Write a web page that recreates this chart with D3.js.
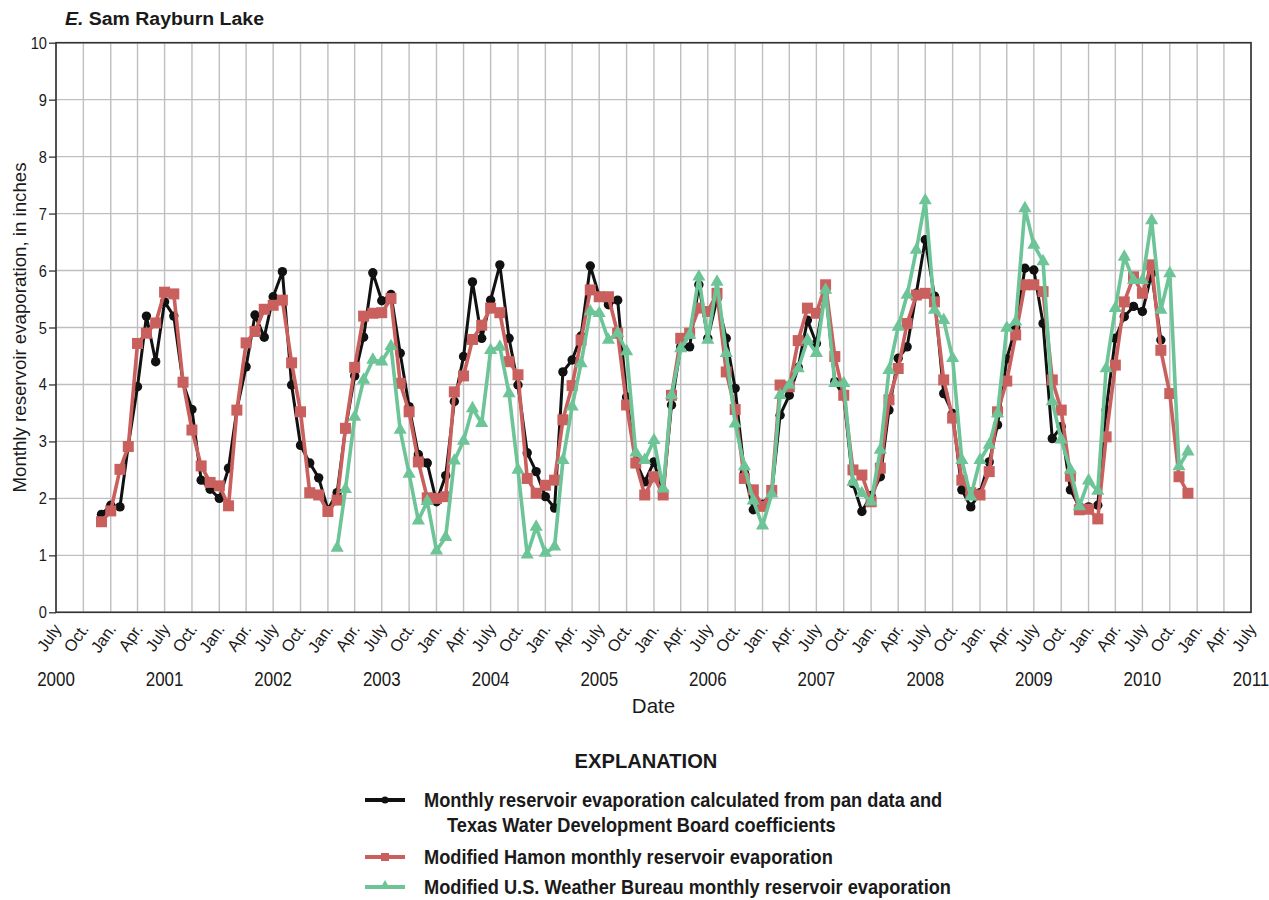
<!DOCTYPE html>
<html>
<head>
<meta charset="utf-8">
<script src="https://cdn.jsdelivr.net/npm/d3@7"></script>
<style>
  body { margin: 0; background: #fff; }
  svg { display: block; }
</style>
</head>
<body>
<svg id="chart" width="1269" height="900"></svg>
<script>
// Monthly reservoir evaporation, Sam Rayburn Lake, in inches.
// Each series is listed month by month from its first month.
const panStart = [2000, 12];     // pan data with TWDB coefficients
const panValues = [
  1.72,
  1.88, 1.85, 2.93, 3.96, 5.20, 4.40, 5.45, 5.20, 4.03, 3.56, 2.32, 2.16,
  2.00, 2.53, 3.56, 4.31, 5.22, 4.83, 5.54, 5.98, 3.99, 2.93, 2.62, 2.36,
  1.80, 2.10, 3.22, 4.15, 4.83, 5.96, 5.47, 5.58, 4.55, 3.61, 2.77, 2.62,
  1.94, 2.40, 3.70, 4.49, 5.80, 4.81, 5.48, 6.10, 4.81, 3.99, 2.80, 2.47,
  2.03, 1.83, 4.22, 4.43, 4.85, 6.08, 5.55, 5.40, 5.48, 3.78, 2.65, 2.29,
  2.64, 2.10, 3.64, 4.66, 4.66, 5.75, 4.81, 5.50, 4.81, 3.93, 2.45, 1.80,
  1.90, 2.10, 3.46, 3.81, 4.30, 5.13, 4.72, 5.65, 4.05, 3.80, 2.26, 1.77,
  2.05, 2.38, 3.55, 4.46, 4.66, 5.60, 6.54, 5.55, 3.84, 3.49, 2.15, 1.85,
  2.10, 2.64, 3.29, 4.45, 5.00, 6.04, 6.01, 5.07, 3.05, 3.26, 2.15, 1.85,
  1.85, 1.88, 3.55, 4.81, 5.19, 5.37, 5.28, 5.95, 4.78
];

const hamonStart = [2000, 12];   // modified Hamon
const hamonValues = [
  1.59,
  1.78, 2.51, 2.91, 4.72, 4.90, 5.08, 5.62, 5.59, 4.04, 3.20, 2.57, 2.28,
  2.22, 1.87, 3.55, 4.73, 4.93, 5.32, 5.39, 5.48, 4.38, 3.52, 2.10, 2.06,
  1.77, 1.97, 3.23, 4.30, 5.20, 5.25, 5.26, 5.51, 4.02, 3.52, 2.64, 2.01,
  2.00, 2.03, 3.87, 4.15, 4.79, 5.04, 5.34, 5.26, 4.40, 4.17, 2.35, 2.09,
  2.23, 2.32, 3.38, 3.98, 4.78, 5.66, 5.54, 5.54, 4.90, 3.64, 2.62, 2.06,
  2.38, 2.06, 3.81, 4.81, 4.90, 5.34, 5.28, 5.60, 4.22, 3.56, 2.35, 2.15,
  1.86, 2.14, 3.99, 3.96, 4.77, 5.34, 5.25, 5.75, 4.49, 3.81, 2.50, 2.41,
  1.94, 2.53, 3.73, 4.28, 5.07, 5.57, 5.60, 5.45, 4.08, 3.41, 2.32, 2.10,
  2.06, 2.47, 3.52, 4.06, 4.87, 5.75, 5.75, 5.63, 4.08, 3.55, 2.39, 1.80,
  1.81, 1.64, 3.08, 4.34, 5.45, 5.89, 5.60, 6.10, 4.60, 3.84, 2.38, 2.09
];

const weatherBureauStart = [2003, 2];   // modified U.S. Weather Bureau
const weatherBureauValues = [
  1.13, 2.16, 3.43, 4.08, 4.43, 4.40, 4.67, 3.20, 2.43, 1.61, 1.95,
  1.08, 1.32, 2.66, 3.01, 3.58, 3.32, 4.60, 4.66, 3.84, 2.50, 1.01, 1.50,
  1.04, 1.15, 2.67, 3.61, 4.37, 5.28, 5.25, 4.78, 4.90, 4.58, 2.80, 2.67,
  3.02, 2.17, 3.81, 4.63, 4.87, 5.89, 4.78, 5.80, 4.55, 3.31, 2.56, 1.96,
  1.52, 2.08, 3.81, 3.99, 4.28, 4.78, 4.55, 5.66, 4.02, 4.02, 2.29, 2.09,
  1.94, 2.85, 4.25, 5.01, 5.57, 6.36, 7.23, 5.31, 5.13, 4.46, 2.67, 2.03,
  2.67, 2.94, 3.49, 4.99, 5.10, 7.09, 6.45, 6.16, 3.70, 3.03, 2.50, 1.86,
  2.31, 2.13, 4.28, 5.34, 6.24, 5.83, 5.83, 6.88, 5.31, 5.95, 2.56, 2.82
];

const monthTickLabels = { 0: "Jan.", 3: "Apr.", 6: "July", 9: "Oct." };
const yearLabels = ["2000", "2001", "2002", "2003", "2004", "2005",
                    "2006", "2007", "2008", "2009", "2010", "2011"];
const yTickValues = [0, 1, 2, 3, 4, 5, 6, 7, 8, 9, 10];

const legendLabels = [
  ["Monthly reservoir evaporation calculated from pan data and",
   "Texas Water Development Board coefficients"],
  ["Modified Hamon monthly reservoir evaporation"],
  ["Modified U.S. Weather Bureau monthly reservoir evaporation"]
];

// ---------------------------------------------------------------------
const svg = d3.select("#chart");

// Pick a narrow sans face if one is installed, otherwise squeeze a regular one.
function hasFont(name) {
  const probe = svg.append("text").attr("x", -2000).attr("y", -2000)
    .style("font-size", "40px").text("Monthly reservoir 2000 WMi");
  probe.style("font-family", `"${name}", monospace`);
  const a = probe.node().getComputedTextLength();
  probe.style("font-family", `"${name}", serif`);
  const b = probe.node().getComputedTextLength();
  probe.remove();
  return Math.abs(a - b) < 0.5;
}
let fontFamily, widthBase;
if (hasFont("Liberation Sans Narrow")) {
  fontFamily = '"Liberation Sans Narrow", sans-serif';
  widthBase = 1.0;
} else {
  fontFamily = '"Liberation Sans", Arial, sans-serif';
  widthBase = 0.82;
}

// Text placed at (x, y), optionally rotated, stretched horizontally by sx.
function addText(parent, x, y, str, opt = {}) {
  const sx = widthBase * (opt.sx || 1);
  const g = parent.append("g")
    .attr("transform", `translate(${x},${y}) rotate(${opt.rotate || 0}) scale(${sx},1)`);
  const t = g.append("text")
    .attr("text-anchor", opt.anchor || "start")
    .style("font-family", fontFamily)
    .style("font-size", (opt.size || 16) + "px")
    .style("font-weight", opt.weight || "normal")
    .style("fill", "#1a1a1a");
  if (str !== null) t.text(str);
  return t;
}

const plot = { left: 56, right: 1251, top: 42.7, bottom: 612.3 };

const x = d3.scaleTime()
  .domain([new Date(2000, 6, 1), new Date(2011, 6, 1)])
  .range([plot.left, plot.right]);
const y = d3.scaleLinear().domain([0, 10]).range([plot.bottom, plot.top]);

function toSeries(start, values) {
  const first = new Date(start[0], start[1] - 1, 1);
  return values.map((v, i) => ({ date: d3.timeMonth.offset(first, i), value: v }));
}
const pan = toSeries(panStart, panValues);
const hamon = toSeries(hamonStart, hamonValues);
const weather = toSeries(weatherBureauStart, weatherBureauValues);

// Grid
const quarterTicks = x.ticks(d3.timeMonth.every(3));
const grid = svg.append("g").attr("stroke", "#bfbfbf").attr("stroke-width", 1.4);
grid.selectAll("line.v").data(quarterTicks).join("line")
  .attr("x1", d => x(d)).attr("x2", d => x(d))
  .attr("y1", plot.top).attr("y2", plot.bottom);
grid.selectAll("line.h").data(yTickValues).join("line")
  .attr("x1", plot.left).attr("x2", plot.right)
  .attr("y1", d => y(d)).attr("y2", d => y(d));

// Y axis
const yAxis = svg.append("g")
  .attr("transform", `translate(${plot.left},0)`)
  .call(d3.axisLeft(y).tickValues(yTickValues).tickSize(7).tickFormat(""));
yAxis.select(".domain").remove();
yAxis.selectAll(".tick line").attr("stroke", "#333").attr("stroke-width", 1.3);
yTickValues.forEach(v => addText(svg, 47, y(v) + 6, String(v), { anchor: "end", size: 17, sx: 1.05 }));

addText(svg, 26, (plot.top + plot.bottom) / 2, "Monthly reservoir evaporation, in inches",
  { anchor: "middle", size: 19, rotate: -90, sx: 1.2 });

// X axis labels
quarterTicks.forEach(d => {
  addText(svg, x(d) + 6, 629, monthTickLabels[d.getMonth()],
    { anchor: "end", size: 16.5, rotate: -55, sx: 1.2 });
});
yearLabels.forEach(yr => {
  addText(svg, x(new Date(+yr, 6, 1)), 686, yr, { anchor: "middle", size: 19.5, sx: 1.06 });
});
addText(svg, (plot.left + plot.right) / 2, 713, "Date", { anchor: "middle", size: 20, sx: 1.25 });

// Frame
svg.append("rect")
  .attr("x", plot.left).attr("y", plot.top)
  .attr("width", plot.right - plot.left).attr("height", plot.bottom - plot.top)
  .attr("fill", "none").attr("stroke", "#333").attr("stroke-width", 1.6);

// Title
const title = addText(svg, 65, 25, null, { size: 19, weight: "bold", sx: 1.25 });
title.append("tspan").style("font-style", "italic").text("E.");
title.append("tspan").text(" Sam Rayburn Lake");

// Series
const colors = { pan: "#111111", hamon: "#c9605e", weather: "#6cc497" };
const line = d3.line().x(d => x(d.date)).y(d => y(d.value));
const triangle = d3.symbol().type(d3.symbolTriangle);

const layer = svg.append("g");
function drawSeries(data, color, width, marker) {
  const g = layer.append("g");
  g.append("path").datum(data).attr("d", line)
    .attr("fill", "none").attr("stroke", color)
    .attr("stroke-width", width).attr("stroke-linejoin", "round");
  marker(g.selectAll(".m").data(data).enter(), color);
}
drawSeries(pan, colors.pan, 3, (sel, c) =>
  sel.append("circle").attr("cx", d => x(d.date)).attr("cy", d => y(d.value))
    .attr("r", 4.7).attr("fill", c));
drawSeries(hamon, colors.hamon, 3.6, (sel, c) =>
  sel.append("rect").attr("x", d => x(d.date) - 5.5).attr("y", d => y(d.value) - 5.5)
    .attr("width", 11).attr("height", 11).attr("fill", c));
drawSeries(weather, colors.weather, 3.6, (sel, c) =>
  sel.append("path").attr("d", triangle.size(75)())
    .attr("transform", d => `translate(${x(d.date)},${y(d.value)})`).attr("fill", c));

// Legend
addText(svg, 646, 768, "EXPLANATION", { anchor: "middle", size: 21, weight: "bold", sx: 1.17 });
const legendRows = [
  { y: 800, color: colors.pan, kind: "circle" },
  { y: 857, color: colors.hamon, kind: "square" },
  { y: 887, color: colors.weather, kind: "triangle" }
];
legendRows.forEach((row, i) => {
  const g = svg.append("g");
  g.append("line").attr("x1", 365).attr("x2", 405).attr("y1", row.y).attr("y2", row.y)
    .attr("stroke", row.color).attr("stroke-width", 4);
  if (row.kind === "circle") {
    g.append("circle").attr("cx", 385).attr("cy", row.y).attr("r", 3.6).attr("fill", row.color);
  } else if (row.kind === "square") {
    g.append("rect").attr("x", 381).attr("y", row.y - 4).attr("width", 8).attr("height", 8)
      .attr("fill", row.color);
  } else {
    g.append("path").attr("d", triangle.size(45)())
      .attr("transform", `translate(385,${row.y - 1})`).attr("fill", row.color);
  }
  legendLabels[i].forEach((txt, j) => {
    addText(svg, j === 0 ? 424 : 447, row.y + 7 + j * 25, txt, { size: 19.5, weight: "bold", sx: 1.14 });
  });
});
</script>
</body>
</html>
